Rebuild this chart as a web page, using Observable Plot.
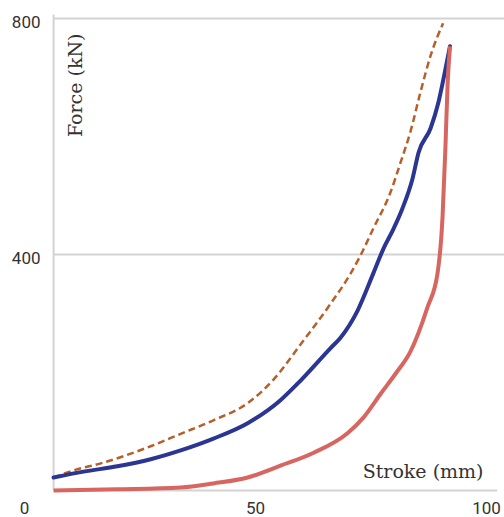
<!DOCTYPE html>
<html><head><meta charset="utf-8">
<script src="https://cdn.jsdelivr.net/npm/d3@7"></script>
<script src="https://cdn.jsdelivr.net/npm/@observablehq/plot@0.6"></script>
<style>body{margin:0;background:#fff;}</style>
</head><body><div id="chart"></div>
<script>
// Series: stroke (mm) vs force (kN)
const dashedStroke = [6.3, 11.0, 16.5, 27.3, 33.8, 40.9, 48.3, 53.9, 59.7, 66.2, 70.6, 72.7, 75.5, 79.2, 81.4, 83.5, 85.7, 87.9, 90.6];
const dashedForce  = [22, 35, 46, 75, 96, 119, 148, 188, 247, 316, 368, 398, 444, 505, 556, 607, 675, 737, 792];
const blueStroke = [6.3, 12.8, 20.1, 27.3, 33.8, 40.9, 48.3, 55.4, 59.1, 66.2, 68.4, 72.1, 75.5, 77.7, 79.9, 81.8, 84.0, 85.3, 87.9, 89.6, 90.7, 92.1];
const blueForce  = [22, 32, 41, 53, 68, 88, 114, 153, 181, 241, 259, 305, 368, 410, 444, 478, 529, 573, 614, 658, 698, 753];
const redStroke = [6.3, 20.0, 33.8, 40.9, 48.3, 55.4, 62.6, 69.9, 73.4, 77.1, 80.5, 83.5, 87.2, 89.4, 90.5, 91.1, 91.6, 92.1];
const redForce  = [0, 2, 5, 12, 22, 42, 64, 97, 124, 164, 200, 235, 310, 368, 466, 580, 692, 753];

const xTicks = [0, 50, 100];
const yTicks = [400, 800];
const axisStart = 6.3;   // stroke value where the plotted frame begins
const xLabel = "Stroke (mm)";
const yLabel = "Force (kN)";

const toRows = (xs, ys) => xs.map((x, i) => ({x, y: ys[i]}));
const dashed = toRows(dashedStroke, dashedForce);
const blue = toRows(blueStroke, blueForce);
const red = toRows(redStroke, redForce);

const grid = "#d3d3d3";
const chart = Plot.plot({
  width: 504,
  height: 517,
  marginLeft: 24,
  marginRight: 18,
  marginTop: 18,
  marginBottom: 27,
  style: {fontFamily: "Roboto, sans-serif", background: "#fff"},
  x: {domain: [0, 100]},
  y: {domain: [0, 800]},
  marks: [
    Plot.ruleY(yTicks, {x1: axisStart, x2: 104, stroke: grid, strokeWidth: 2}),
    Plot.ruleY([0], {x1: axisStart, x2: 102.4, stroke: grid, strokeWidth: 2}),
    Plot.ruleX([axisStart], {y1: 0, y2: 806, stroke: grid, strokeWidth: 2}),
    Plot.axisX({ticks: xTicks, tickSize: 0, tickPadding: 11, label: null, fontSize: 17, fill: "#333"}),
    Plot.axisY({ticks: yTicks, tickSize: 0, tickPadding: 0, dx: 16, dy: 4, label: null, fontSize: 17, fill: "#333"}),
    Plot.line(dashed, {x: "x", y: "y", stroke: "#b5602b", strokeWidth: 2.5, strokeDasharray: "7,4", strokeLinecap: "butt", curve: "monotone-x"}),
    Plot.line(blue, {x: "x", y: "y", stroke: "#2b3592", strokeWidth: 4, curve: "monotone-x"}),
    Plot.line(red, {x: "x", y: "y", stroke: "#d6665f", strokeWidth: 4, strokeLinecap: "butt", curve: "monotone-x"}),
    Plot.text([yLabel], {frameAnchor: "top-left", dx: 51, dy: 15, rotate: -90, textAnchor: "end", lineAnchor: "middle", fontFamily: "DejaVu Serif", fontSize: 19, fill: "#333"}),
    Plot.text([xLabel], {frameAnchor: "bottom-right", dx: -3, dy: -19, textAnchor: "end", lineAnchor: "middle", fontFamily: "DejaVu Serif", fontSize: 19, fill: "#333"})
  ]
});
document.getElementById("chart").append(chart);
</script>
</body></html>
